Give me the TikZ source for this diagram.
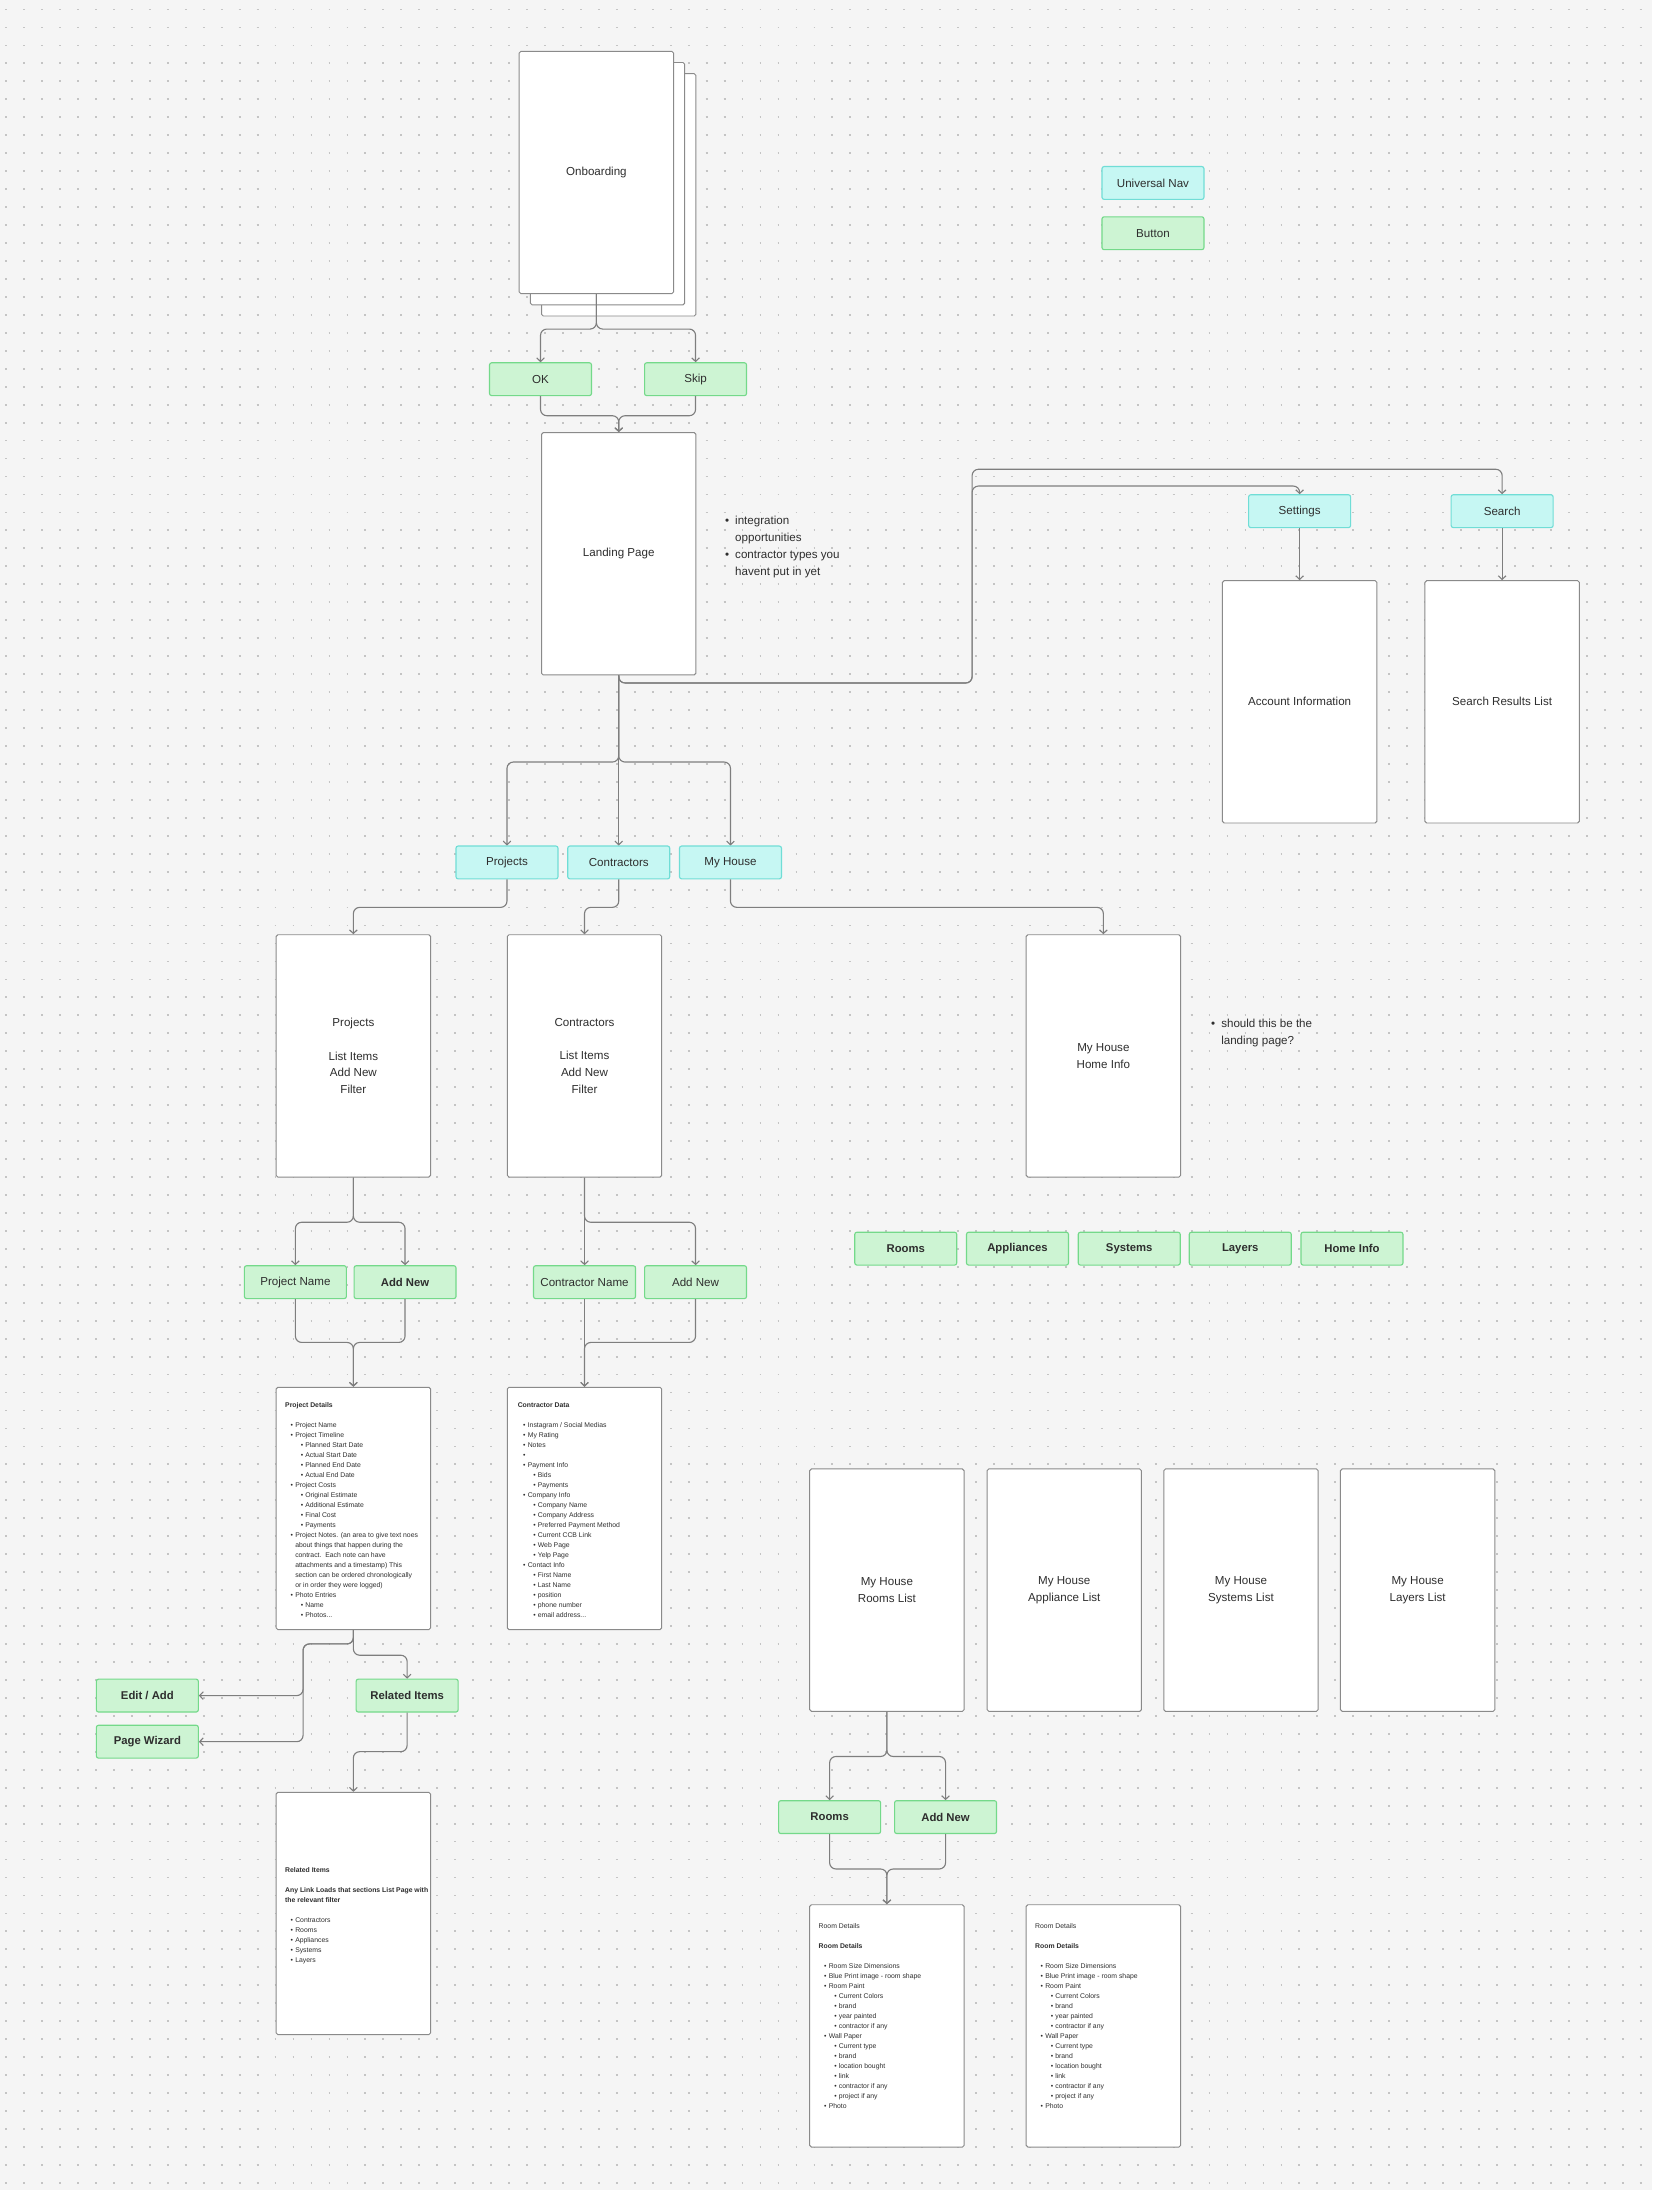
\documentclass[tikz,border=0pt]{standalone}
\usepackage{fontspec}
\setmainfont{Liberation Sans}
\usetikzlibrary{arrows.meta}
\definecolor{bgcol}{HTML}{F5F5F5}
\definecolor{dotcol}{HTML}{C4C4C4}
\definecolor{linecol}{HTML}{7E7E7E}
\definecolor{edgecol}{HTML}{8A8A8A}
\definecolor{txtcol}{HTML}{2E2E2E}
\definecolor{grfill}{HTML}{CDF4D3}
\definecolor{grline}{HTML}{74D98A}
\definecolor{cyfill}{HTML}{C6F7F3}
\definecolor{cyline}{HTML}{70DDD6}
\newcommand{\lbl}{\fontsize{8.3}{12}\selectfont}
\newcommand{\lblb}{\fontsize{8.1}{12}\selectfont\bfseries}
\newcommand{\sml}{\fontsize{4.9}{7.16}\selectfont}
\newcommand{\lia}[1]{\hspace*{3.8pt}\makebox[3.4pt][l]{\textbullet}#1}
\newcommand{\lib}[1]{\hspace*{11.2pt}\makebox[3.2pt][l]{\textbullet}#1}
\newcommand{\lic}[1]{\hspace*{7.2pt}#1}
\newcommand{\nbul}{\makebox[7.2pt][l]{\textbullet}}
\newcommand{\nind}{\hspace*{7.2pt}}
\tikzset{
  page/.style={draw=edgecol, fill=white, line width=0.7pt, rounded corners=1.2pt,
    minimum width=110.5pt, minimum height=173.5pt, inner sep=0pt, align=center,
    text=txtcol, font=\lbl},
  btn/.style={draw=grline, fill=grfill, line width=0.8pt, rounded corners=1.5pt,
    minimum width=73pt, minimum height=23.5pt, inner sep=0pt, text=txtcol, font=\lbl},
  btnb/.style={btn, font=\lblb},
  nav/.style={btn, draw=cyline, fill=cyfill},
  conn/.style={draw=linecol, line width=0.8pt, rounded corners=4.5pt,
    -{Straight Barb[length=2.6pt,width=5.5pt]}},
  note/.style={inner sep=0pt, align=left, text=txtcol, font=\lbl},
  details/.style={inner sep=0pt, align=left, text=txtcol, font=\sml}}

\begin{document}
\begin{tikzpicture}[x=1pt, y=-1pt]
	\useasboundingbox (0,0) rectangle (1183,1568);
	\fill[bgcol] (0,0) rectangle (1183,1568);
	% dot grid
	\foreach \r in {0,...,121}
		\draw[dotcol, line width=1.3pt, dash pattern=on 1.3pt off 11.56pt] (3.75,6.8+\r*12.86) -- (1183,6.8+\r*12.86);

	% onboarding stack
	\node[page] (onb3) at (443,139.5) {};
	\node[page] (onb2) at (435,131.5) {};
	\node[page] (onb) at (427,123.5) {Onboarding};
	\node[btn] (ok) at (387,271.5) {OK};
	\node[btn] (skip) at (498,271.5) {Skip};
	\draw[conn] (onb.south) -- ++(0,25) -| (ok.north);
	\draw[conn] (onb.south) -- ++(0,25) -| (skip.north);

	% legend
	\node[nav] (unav) at (825.5,131) {Universal Nav};
	\node[btn] (legbtn) at (825.5,167) {Button};

	% landing
	\node[page] (landing) at (443,396.5) {Landing Page};
	\draw[conn] (ok.south) -- ++(0,14) -| (landing.north);
	\draw[conn] (skip.south) -- ++(0,14) -| (landing.north);
	\node[note, anchor=north west] (landnote) at (519,369.5)
		{\nbul integration\\\nind opportunities\\\nbul contractor types you\\\nind havent put in yet};

	% universal nav
	\node[nav] (settings) at (930.5,366) {Settings};
	\node[nav] (search) at (1075.5,366) {Search};
	\node[page] (account) at (930.5,502.5) {Account Information};
	\node[page] (results) at (1075.5,502.5) {Search Results List};
	\draw[conn] (landing.south) |- (696,489) -- (696,348) -| (settings.north);
	\draw[conn] (landing.south) |- (696,489) -- (696,336) -| (search.north);
	\draw[conn] (settings.south) -- (account.north);
	\draw[conn] (search.south) -- (results.north);

	% main sections
	\node[nav] (projbtn) at (363,617.5) {Projects};
	\node[nav] (contbtn) at (443,617.5) {Contractors};
	\node[nav] (housebtn) at (523,617.5) {My House};
	\draw[conn] (landing.south) -- ++(0,62) -| (projbtn.north);
	\draw[conn] (landing.south) -- (contbtn.north);
	\draw[conn] (landing.south) -- ++(0,62) -| (housebtn.north);

	\node[page] (projects) at (253,756) {Projects\\\mbox{}\\List Items\\Add New\\Filter};
	\node[page] (contractors) at (418.5,756) {Contractors\\\mbox{}\\List Items\\Add New\\Filter};
	\node[page] (house) at (790,756) {My House\\Home Info};
	\draw[conn] (projbtn.south) -- ++(0,20) -| (projects.north);
	\draw[conn] (contbtn.south) -- ++(0,20) -| (contractors.north);
	\draw[conn] (housebtn.south) -- ++(0,20) -| (house.north);
	\node[note, anchor=north west] (housenote) at (867,729.5)
		{\nbul should this be the\\\nind landing page?};

	% projects
	\node[btn] (pname) at (211.5,918) {Project Name};
	\node[btnb] (padd) at (290,918) {Add New};
	\draw[conn] (projects.south) -- ++(0,32) -| (pname.north);
	\draw[conn] (projects.south) -- ++(0,32) -| (padd.north);
	\node[page] (pdetails) at (253,1080) {};
	\draw[conn] (pname.south) -- ++(0,31) -| (pdetails.north);
	\draw[conn] (padd.south) -- ++(0,31) -| (pdetails.north);
	\node[details, anchor=north west] (pdtext) at (204,1003.8) {\textbf{Project Details}\\\mbox{}\\
		\lia{Project Name}\\\lia{Project Timeline}\\\lib{Planned Start Date}\\\lib{Actual Start Date}\\
		\lib{Planned End Date}\\\lib{Actual End Date}\\\lia{Project Costs}\\\lib{Original Estimate}\\
		\lib{Additional Estimate}\\\lib{Final Cost}\\\lib{Payments}\\
		\lia{Project Notes. (an area to give text noes}\\\lic{about things that happen during the}\\
		\lic{contract.\ \ Each note can have}\\\lic{attachments and a timestamp) This}\\
		\lic{section can be ordered chronologically}\\\lic{or in order they were logged)}\\
		\lia{Photo Entries}\\\lib{Name}\\\lib{Photos...}};

	\node[btnb] (editadd) at (105.5,1214) {Edit / Add};
	\node[btnb] (wizard) at (105.5,1247) {Page Wizard};
	\node[btnb] (related) at (291.5,1214) {Related Items};
	\draw[conn] (pdetails.south) |- (217,1177) |- (editadd.east);
	\draw[conn] (pdetails.south) |- (217,1177) |- (wizard.east);
	\draw[conn] (pdetails.south) -- ++(0,18) -| (related.north);
	\node[page] (relbox) at (253,1370) {};
	\draw[conn] (related.south) -- ++(0,28) -| (relbox.north);
	\node[details, anchor=north west] (reltext) at (204,1336.8) {\textbf{Related Items}\\\mbox{}\\
		\textbf{Any Link Loads that sections List Page with}\\\textbf{the relevant filter}\\\mbox{}\\
		\lia{Contractors}\\\lia{Rooms}\\\lia{Appliances}\\\lia{Systems}\\\lia{Layers}};

	% contractors
	\node[btn] (cname) at (418.5,918) {Contractor Name};
	\node[btn] (cadd) at (498,918) {Add New};
	\draw[conn] (contractors.south) -- (cname.north);
	\draw[conn] (contractors.south) -- ++(0,32) -| (cadd.north);
	\node[page] (cdata) at (418.5,1080) {};
	\draw[conn] (cname.south) -- (cdata.north);
	\draw[conn] (cadd.south) -- ++(0,31) -| (cdata.north);
	\node[details, anchor=north west] (cdtext) at (370.5,1003.8) {\textbf{Contractor Data}\\\mbox{}\\
		\lia{Instagram / Social Medias}\\\lia{My Rating}\\\lia{Notes}\\\lia{}\\\lia{Payment Info}\\
		\lib{Bids}\\\lib{Payments}\\\lia{Company Info}\\\lib{Company Name}\\\lib{Company Address}\\
		\lib{Preferred Payment Method}\\\lib{Current CCB Link}\\\lib{Web Page}\\\lib{Yelp Page}\\
		\lia{Contact Info}\\\lib{First Name}\\\lib{Last Name}\\\lib{position}\\\lib{phone number}\\
		\lib{email address...}};

	% my house
	\node[btnb] (roomsbtn) at (648.5,894) {Rooms};
	\node[btnb] (applbtn) at (728.5,894) {Appliances};
	\node[btnb] (sysbtn) at (808.5,894) {Systems};
	\node[btnb] (layerbtn) at (888,894) {Layers};
	\node[btnb] (homebtn) at (968,894) {Home Info};

	\node[page] (roomlist) at (635,1138.5) {My House\\Rooms List};
	\node[page] (appllist) at (762,1138.5) {My House\\Appliance List};
	\node[page] (syslist) at (888.5,1138.5) {My House\\Systems List};
	\node[page] (layerlist) at (1015,1138.5) {My House\\Layers List};

	\node[btnb] (rooms) at (594,1301) {Rooms};
	\node[btnb] (roomadd) at (677,1301) {Add New};
	\draw[conn] (roomlist.south) -- ++(0,32) -| (rooms.north);
	\draw[conn] (roomlist.south) -- ++(0,32) -| (roomadd.north);
	\node[page] (roomdet) at (635,1450.5) {};
	\node[page] (roomdetb) at (790,1450.5) {};
	\draw[conn] (rooms.south) -- ++(0,25) -| (roomdet.north);
	\draw[conn] (roomadd.south) -- ++(0,25) -| (roomdet.north);
	\foreach \nm/\px in {rdtext/586, rdtextb/741}
		\node[details, anchor=north west] (\nm) at (\px,1377.3) {Room Details\\\mbox{}\\\textbf{Room Details}\\\mbox{}\\
			\lia{Room Size Dimensions}\\\lia{Blue Print image - room shape}\\\lia{Room Paint}\\
			\lib{Current Colors}\\\lib{brand}\\\lib{year painted}\\\lib{contractor if any}\\
			\lia{Wall Paper}\\\lib{Current type}\\\lib{brand}\\\lib{location bought}\\\lib{link}\\
			\lib{contractor if any}\\\lib{project if any}\\\lia{Photo}};
\end{tikzpicture}
\end{document}
